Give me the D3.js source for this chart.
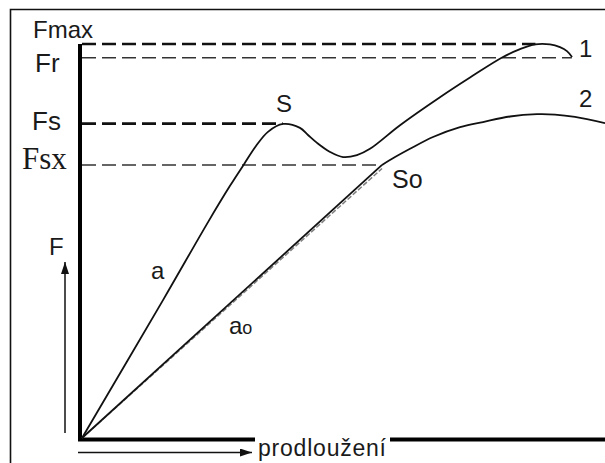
<!DOCTYPE html>
<html>
<head>
<meta charset="utf-8">
<script src="https://cdn.jsdelivr.net/npm/d3@7"></script>
<style>
  html, body { margin: 0; padding: 0; background: #fff; }
  text { font-family: "Liberation Sans", Arial, sans-serif; fill: #1a1a1a; }
</style>
</head>
<body>
<svg id="chart" width="605" height="463"></svg>
<script>
// elongation (mm) / force (kN, Fmax = 100)
const curve1 = [
  [0, 0], [7.79, 35.0], [12.12, 54.8], [14.23, 64.0], [15.58, 69.5], [16.73, 74.1],
  [17.88, 77.7], [19.33, 79.7], [20.96, 78.7], [21.73, 76.9], [22.6, 74.9],
  [23.85, 72.6], [25.1, 71.3], [26.44, 71.8], [27.69, 73.4], [30.58, 79.4],
  [34.42, 86.5], [37.31, 91.5], [40.48, 96.7], [42.12, 98.7], [43.56, 99.9],
  [45.0, 99.9], [45.96, 99.2], [46.63, 98.2], [47.12, 96.7]
];
const lineA0 = [[0, 0], [28.85, 69.3]];
const lineA0Guide = [[0, 0], [28.85, 68.4]];
const curve2 = [
  [28.85, 69.3], [30.10, 71.3], [31.54, 73.4], [33.75, 76.4], [36.35, 78.9], [38.56, 80.2],
  [41.15, 81.6], [43.75, 82.2], [45.48, 82.1], [47.40, 81.5], [50.29, 79.9]
];
// force levels: name, value, end of dashed line (elongation), thick?
const levels = [
  { name: 'Fmax', f: 100, end: 43.6, thick: true },
  { name: 'Fr', f: 96.5, end: 47.1, thick: false },
  { name: 'Fs', f: 79.8, end: 19.3, thick: true },
  { name: 'Fsx', f: 69.3, end: 28.85, thick: false }
];

const svg = d3.select('#chart');
const x = d3.scaleLinear().domain([0, 50]).range([82, 602]);
const y = d3.scaleLinear().domain([0, 100]).range([438, 44]);

// frame
svg.append('path')
  .attr('d', 'M10.5,470V9.5H610')
  .attr('fill', 'none').attr('stroke', '#111').attr('stroke-width', 1.6);

const defs = svg.append('defs');
defs.append('marker')
  .attr('id', 'arr')
  .attr('viewBox', '0 0 12 8')
  .attr('refX', 12).attr('refY', 4)
  .attr('markerWidth', 12).attr('markerHeight', 8)
  .attr('markerUnits', 'userSpaceOnUse')
  .attr('orient', 'auto')
  .append('path').attr('d', 'M0,0L12,4L0,8Z').attr('fill', '#111');

// dashed level lines
svg.append('g').selectAll('line')
  .data(levels)
  .enter()
  .append('line')
  .attr('x1', x(0)).attr('x2', d => x(d.end))
  .attr('y1', d => y(d.f)).attr('y2', d => y(d.f))
  .attr('stroke', d => d.thick ? '#111' : '#333')
  .attr('stroke-width', d => d.thick ? 2.6 : 1.5)
  .attr('stroke-dasharray', '14,6');

// level labels
const labelPos = {
  Fmax: { x: 33, dy: -6, size: 24, serif: false },
  Fr: { x: 35, dy: 14, size: 26, serif: false },
  Fs: { x: 32, dy: 6, size: 26, serif: false },
  Fsx: { x: 22, dy: 4, size: 31, serif: true }
};
svg.append('g').selectAll('text')
  .data(levels)
  .enter()
  .append('text')
  .text(d => d.name)
  .attr('x', d => labelPos[d.name].x)
  .attr('y', d => y(d.f) + labelPos[d.name].dy)
  .attr('font-size', d => labelPos[d.name].size)
  .style('font-family', d => labelPos[d.name].serif ? '"Liberation Serif", "Times New Roman", serif' : null);

// axes
svg.append('line')
  .attr('x1', 80).attr('x2', 80).attr('y1', y(100)).attr('y2', 441)
  .attr('stroke', '#000').attr('stroke-width', 4);
svg.append('line')
  .attr('x1', 78).attr('x2', 255).attr('y1', 439.5).attr('y2', 439.5)
  .attr('stroke', '#000').attr('stroke-width', 4);
svg.append('line')
  .attr('x1', 390).attr('x2', 605).attr('y1', 439.5).attr('y2', 439.5)
  .attr('stroke', '#000').attr('stroke-width', 4);
svg.append('text').text('prodloužení')
  .attr('x', 258).attr('y', 456).attr('font-size', 23).attr('textLength', 128);

// thin direction arrows
svg.append('line')
  .attr('x1', 65).attr('x2', 65).attr('y1', 433).attr('y2', 262)
  .attr('stroke', '#111').attr('stroke-width', 1.5).attr('marker-end', 'url(#arr)');
svg.append('line')
  .attr('x1', 78).attr('x2', 252).attr('y1', 452.5).attr('y2', 452.5)
  .attr('stroke', '#111').attr('stroke-width', 1.5).attr('marker-end', 'url(#arr)');
svg.append('text').text('F').attr('x', 49).attr('y', 255).attr('font-size', 24);

// curves
const smooth = d3.line().x(d => x(d[0])).y(d => y(d[1])).curve(d3.curveCatmullRom.alpha(0.5));
const straight = d3.line().x(d => x(d[0])).y(d => y(d[1]));
svg.append('path').attr('d', straight(lineA0Guide))
  .attr('fill', 'none').attr('stroke', '#808080').attr('stroke-width', 1.5).attr('stroke-dasharray', '5,2');
svg.append('path').attr('d', straight(lineA0))
  .attr('fill', 'none').attr('stroke', '#111').attr('stroke-width', 1.8);
svg.append('path').attr('d', smooth(curve1))
  .attr('fill', 'none').attr('stroke', '#111').attr('stroke-width', 1.8);
svg.append('path').attr('d', smooth(curve2))
  .attr('fill', 'none').attr('stroke', '#111').attr('stroke-width', 1.8);

// point labels
svg.append('text').text('S').attr('x', 276).attr('y', 112).attr('font-size', 24);
svg.append('text').text('So').attr('x', 392).attr('y', 188).attr('font-size', 25);
svg.append('text').text('1').attr('x', 579).attr('y', 57).attr('font-size', 24);
svg.append('text').text('2').attr('x', 579).attr('y', 107).attr('font-size', 24);
svg.append('text').text('a').attr('x', 151).attr('y', 279).attr('font-size', 24);
const a0 = svg.append('text').attr('x', 229).attr('y', 334).attr('font-size', 24);
a0.append('tspan').text('a');
a0.append('tspan').text('o').attr('font-size', 18);
</script>
</body>
</html>
